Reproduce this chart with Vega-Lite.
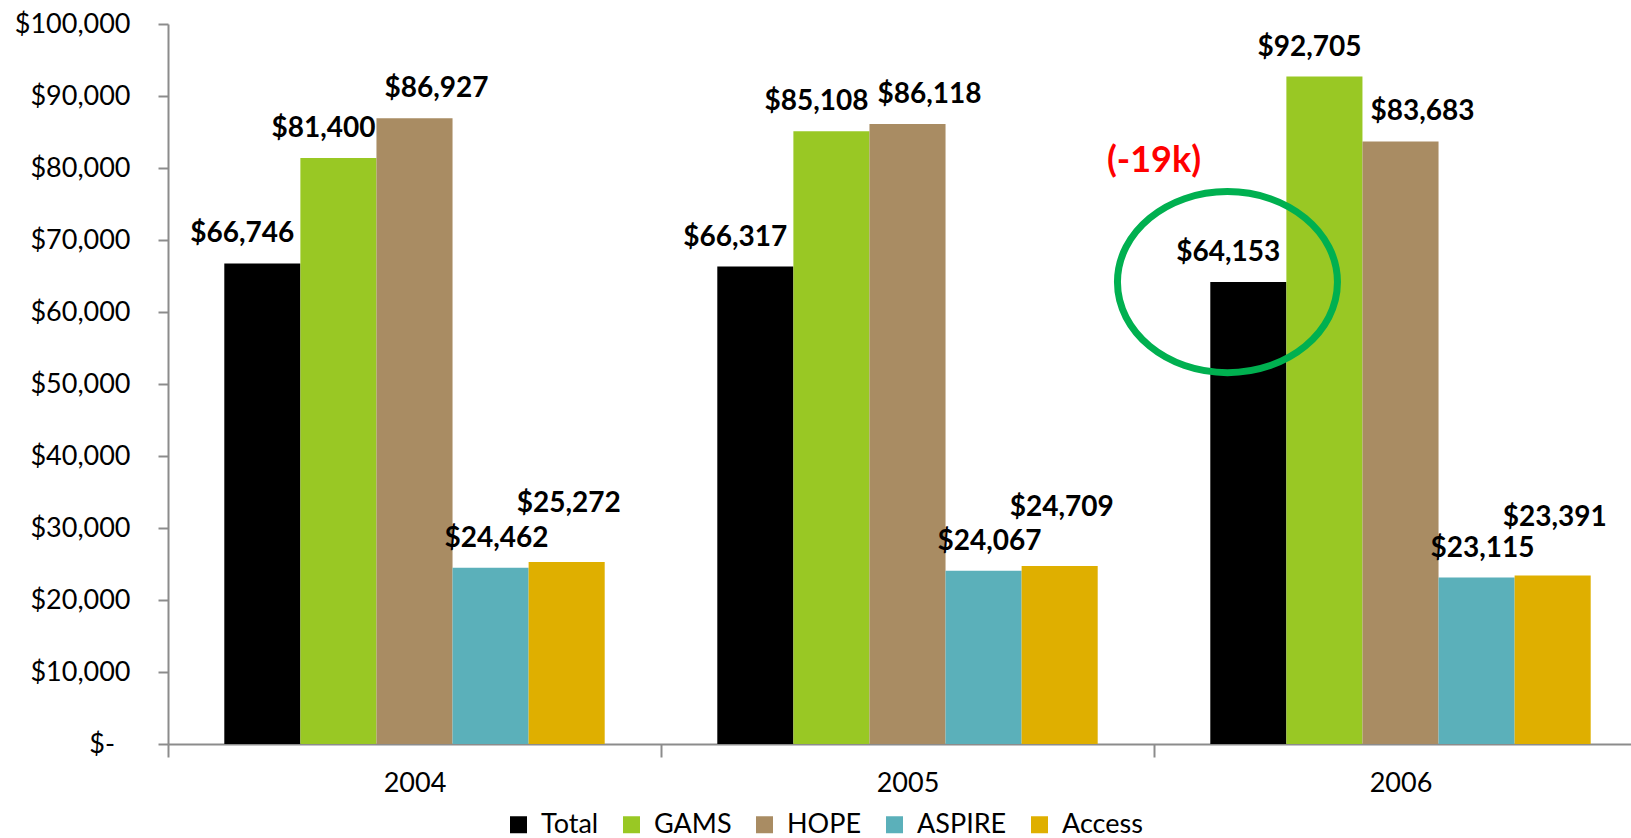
{
  "$schema": "https://vega.github.io/schema/vega-lite/v6.json",
  "width": 1463,
  "height": 720,
  "autosize": {"type": "none"},
  "padding": {"left": 168, "top": 24, "right": 0, "bottom": 94},
  "background": "white",
  "config": {
    "view": {"stroke": null},
    "font": "Lato",
    "axisX": {
      "title": null, "labelAngle": 0, "tickBand": "extent", "tickSize": 13, "tickWidth": 2,
      "tickColor": "#8c8c8c", "domainColor": "#8c8c8c", "domainWidth": 2,
      "labelFont": "Lato", "labelFontSize": 27, "labelColor": "#000000", "labelPadding": 13, "grid": false
    },
    "axisY": {
      "title": null, "grid": false,
      "tickSize": 10, "tickWidth": 2, "tickColor": "#8c8c8c", "domainColor": "#8c8c8c", "domainWidth": 2,
      "labelFont": "Lato", "labelFontSize": 27, "labelColor": "#000000", "labelPadding": 28
    }
  },
  "layer": [
    {
      "data": {
        "values": [
          {"year": "2004", "series": "Total", "value": 66746},
          {"year": "2004", "series": "GAMS", "value": 81400},
          {"year": "2004", "series": "HOPE", "value": 86927},
          {"year": "2004", "series": "ASPIRE", "value": 24462},
          {"year": "2004", "series": "Access", "value": 25272},
          {"year": "2005", "series": "Total", "value": 66317},
          {"year": "2005", "series": "GAMS", "value": 85108},
          {"year": "2005", "series": "HOPE", "value": 86118},
          {"year": "2005", "series": "ASPIRE", "value": 24067},
          {"year": "2005", "series": "Access", "value": 24709},
          {"year": "2006", "series": "Total", "value": 64153},
          {"year": "2006", "series": "GAMS", "value": 92705},
          {"year": "2006", "series": "HOPE", "value": 83683},
          {"year": "2006", "series": "ASPIRE", "value": 23115},
          {"year": "2006", "series": "Access", "value": 23391}
        ]
      },
      "encoding": {
        "x": {
          "field": "year", "type": "nominal", "title": null,
          "scale": {"domain": ["2004", "2005", "2006"], "range": [0, 1479], "paddingInner": 0, "paddingOuter": 0}
        },
        "y": {
          "field": "value", "type": "quantitative", "title": null,
          "scale": {"domain": [0, 100000], "nice": false, "zero": true},
          "axis": {
            "values": [0, 10000, 20000, 30000, 40000, 50000, 60000, 70000, 80000, 90000, 100000],
            "labelExpr": "datum.value == 0 ? '$-\u00a0\u00a0\u200a\u200b' : '$' + format(datum.value, ',')"
          }
        },
        "xOffset": {
          "field": "series", "type": "nominal",
          "sort": ["Total", "GAMS", "HOPE", "ASPIRE", "Access"],
          "scale": {"paddingInner": 0, "paddingOuter": 0.74}
        }
      },
      "layer": [
        {
          "mark": {"type": "bar"},
          "encoding": {
            "color": {
              "field": "series", "type": "nominal",
              "scale": {"domain": ["Total", "GAMS", "HOPE", "ASPIRE", "Access"], "range": ["#000000", "#99C824", "#A98C63", "#5BB0BA", "#DFAF00"]},
              "legend": {
                "title": null, "orient": "none", "direction": "horizontal", "columns": 5,
                "legendX": 337, "legendY": 787, "symbolType": "square", "symbolSize": 289, "symbolStrokeWidth": 0,
                "symbolOpacity": 1, "labelFont": "Lato", "labelFontSize": 27, "labelColor": "#000000",
                "labelOffset": 9, "columnPadding": 19
              }
            }
          }
        },
        {
          "transform": [{"filter": "datum.series == 'Total'"}],
          "mark": {"type": "text", "font": "Lato", "fontSize": 28, "fontWeight": "bold", "color": "#000000", "baseline": "alphabetic", "dx": -20, "dy": -21},
          "encoding": {"text": {"field": "value", "type": "quantitative", "format": "$,"}}
        },
        {
          "transform": [{"filter": "datum.series == 'GAMS'"}],
          "mark": {"type": "text", "font": "Lato", "fontSize": 28, "fontWeight": "bold", "color": "#000000", "baseline": "alphabetic", "dx": -15, "dy": -21},
          "encoding": {"text": {"field": "value", "type": "quantitative", "format": "$,"}}
        },
        {
          "transform": [{"filter": "datum.series == 'HOPE'"}],
          "mark": {"type": "text", "font": "Lato", "fontSize": 28, "fontWeight": "bold", "color": "#000000", "baseline": "alphabetic", "dx": 22, "dy": -21},
          "encoding": {"text": {"field": "value", "type": "quantitative", "format": "$,"}}
        },
        {
          "transform": [{"filter": "datum.series == 'ASPIRE'"}],
          "mark": {"type": "text", "font": "Lato", "fontSize": 28, "fontWeight": "bold", "color": "#000000", "baseline": "alphabetic", "dx": 6, "dy": -21},
          "encoding": {"text": {"field": "value", "type": "quantitative", "format": "$,"}}
        },
        {
          "transform": [{"filter": "datum.series == 'Access'"}],
          "mark": {"type": "text", "font": "Lato", "fontSize": 28, "fontWeight": "bold", "color": "#000000", "baseline": "alphabetic", "dx": 2, "dy": -50},
          "encoding": {"text": {"field": "value", "type": "quantitative", "format": "$,"}}
        }
      ]
    },
    {
      "data": {"values": [{"year": "2006", "value": 81000, "label": "(-19k)"}]},
      "mark": {"type": "text", "font": "Lato", "fontSize": 36, "fontWeight": "bold", "color": "#FF0000", "baseline": "middle", "align": "center"},
      "encoding": {
        "x": {"field": "year", "type": "nominal", "title": null, "bandPosition": 0, "scale": {"domain": ["2004", "2005", "2006"], "range": [0, 1479], "paddingInner": 0, "paddingOuter": 0}},
        "y": {"field": "value", "type": "quantitative", "title": null, "scale": {"domain": [0, 100000], "nice": false, "zero": true}},
        "text": {"field": "label", "type": "nominal"}
      }
    },
    {
      "data": {"values": [{"year": "2006", "value": 64153}]},
      "mark": {
        "type": "point", "filled": false, "opacity": 1, "stroke": "#00B050", "strokeWidth": 7, "size": 48400,
        "shape": "M -1 0 A 1 0.823 0 1 1 1 0 A 1 0.823 0 1 1 -1 0 Z"
      },
      "encoding": {
        "x": {"field": "year", "type": "nominal", "title": null, "bandPosition": 0.149, "scale": {"domain": ["2004", "2005", "2006"], "range": [0, 1479], "paddingInner": 0, "paddingOuter": 0}},
        "y": {"field": "value", "type": "quantitative", "title": null, "scale": {"domain": [0, 100000], "nice": false, "zero": true}}
      }
    }
  ]
}
